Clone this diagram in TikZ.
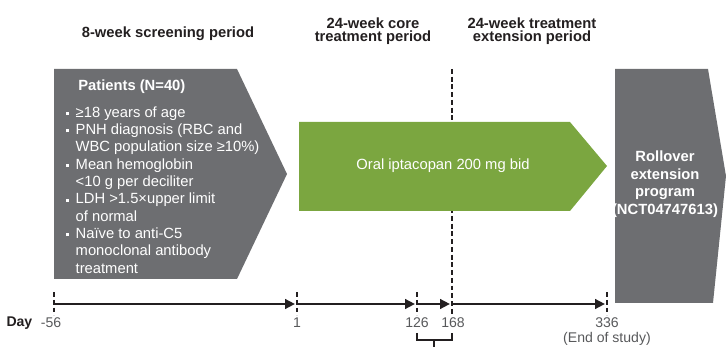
\documentclass[tikz,border=0pt]{standalone}
\usepackage{fontspec}
\setmainfont{Liberation Sans}
\usetikzlibrary{arrows.meta,positioning}
\definecolor{boxgray}{RGB}{109,110,113}
\definecolor{drug}{RGB}{123,166,64}
\definecolor{ink}{RGB}{35,31,32}
\definecolor{daygray}{RGB}{88,89,91}
\newcommand{\sq}{\raisebox{0.28ex}{\rule{2.2pt}{2.2pt}}}

\tikzset{
  head/.style={font=\bfseries\fontsize{10.5}{9.6}\selectfont, text=ink, align=center},
  boxtext/.style={text=white, font=\fontsize{10.5}{12.3}\selectfont, inner sep=0pt},
  daynum/.style={text=daygray, font=\fontsize{10}{12}\selectfont},
  daytick/.style={draw=ink, line width=1.4pt, dash pattern=on 3.5pt off 2pt},
  spanarrow/.style={draw=ink, line width=1.2pt, -{Triangle[length=7pt,width=7pt]},
    shorten <=1pt, shorten >=1.5pt},
}

\begin{document}
\begin{tikzpicture}[x=0.025cm, y=-0.025cm]
\useasboundingbox (0,0) rectangle (726,347);

% period headings
\node[head] (scr) at (168,34) {8-week screening period};
\node[head] (core) at (373,31) {24-week core\\treatment period};
\node[head] (ext) at (532,31) {24-week treatment\\extension period};

% core / extension split
\draw[daytick] (452,69) -- (452,314);

% screening box
\fill[boxgray] (54,69) -- (237,69) -- (287,174) -- (237,279) -- (54,279) -- cycle;
\node[boxtext, font=\bfseries\fontsize{10.5}{12.3}\selectfont, anchor=west] (pat) at (78,87) {Patients (N=40)};
\node[boxtext, anchor=north west] (crit) at (66,105) {%
  \begin{tabular}{@{}l@{\hspace{4.5pt}}l@{}}
  \sq & ≥18 years of age\\
  \sq & PNH diagnosis (RBC and\\
      & WBC population size ≥10\%)\\
  \sq & Mean hemoglobin\\
      & <10 g per deciliter\\
  \sq & LDH >1.5×upper limit\\
      & of normal\\
  \sq & Naïve to anti-C5\\
      & monoclonal antibody\\
      & treatment
  \end{tabular}};

% study drug
\fill[drug] (299,122) -- (570,122) -- (607,166) -- (570,211) -- (299,211) -- cycle;
\node[boxtext] (oral) at (443,166) {Oral iptacopan 200 mg bid};

% rollover
\fill[boxgray] (615,69) -- (708,69) -- (726,176) -- (713,303) -- (615,303) -- cycle;
\node[boxtext, font=\bfseries\fontsize{10.5}{12.5}\selectfont, align=center] (roll) at (665,184)
  {Rollover\\extension\\program\\(NCT04747613)};

% timeline
\foreach \nm/\x in {d0/54, d1/297, d2/417, d3/452, d4/607}
  \coordinate (\nm) at (\x,304);
\foreach \nm in {d0,d1,d2,d4}
  \draw[daytick] ([yshift=8.5pt]\nm) -- ([yshift=-8pt]\nm);
\draw[spanarrow] (d0) -- (d1);
\draw[spanarrow] (d1) -- (d2);
\draw[spanarrow] (d2) -- (d3);
\draw[spanarrow] (d3) -- (d4);

\node[daynum] (n0) at (51,323) {-56};
\node[left=-1pt of n0, text=ink, font=\bfseries\fontsize{10}{12}\selectfont] (day) {Day};
\node[daynum] (n1) at (297,323) {1};
\node[daynum] (n2) at (417,323) {126};
\node[daynum] (n3) at (453,323) {168};
\node[daynum] (n4) at (607,323) {336};
\node[daynum, below=-4pt of n4] (eos) {(End of study)};

% bracket under 126-168
\draw[ink, line width=1pt] (417,333) -- (417,340) -- (452,340) -- (452,333);
\draw[ink, line width=1pt] (434,340) -- (434,347);
\end{tikzpicture}
\end{document}
